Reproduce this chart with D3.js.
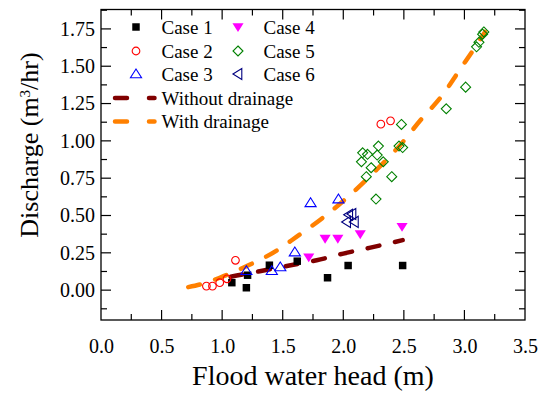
<!DOCTYPE html>
<html><head><meta charset="utf-8">
<script src="https://cdn.jsdelivr.net/npm/d3@7"></script>
<style>
body{margin:0;background:#fff;}
text{font-family:"Liberation Serif","Times New Roman",serif;}
</style></head>
<body><svg id="c" width="547" height="393"></svg>
<script>
// ---- data ----
const case1X = [1.08, 1.20, 1.21, 1.39, 1.62, 1.87, 2.04, 2.49];
const case1Y = [0.05, 0.016, 0.10, 0.167, 0.194, 0.083, 0.165, 0.165];
const case2X = [0.87, 0.92, 0.98, 1.04, 1.11, 2.31, 2.39];
const case2Y = [0.027, 0.027, 0.05, 0.076, 0.20, 1.112, 1.134];
const case3X = [1.20, 1.41, 1.48, 1.60, 1.73, 1.96];
const case3Y = [0.13, 0.13, 0.155, 0.255, 0.585, 0.61];
const case4X = [1.715, 1.85, 1.955, 2.14, 2.485];
const case4Y = [0.22, 0.345, 0.345, 0.375, 0.425];
const case5X = [2.16, 2.20, 2.29, 2.28, 2.15, 2.33, 2.23, 2.19, 2.40, 2.27, 2.46, 2.49, 2.48, 2.85, 3.01, 3.10, 3.12, 3.15, 3.16];
const case5Y = [0.92, 0.91, 0.965, 0.905, 0.86, 0.86, 0.82, 0.76, 0.76, 0.61, 0.965, 0.955, 1.11, 1.215, 1.36, 1.63, 1.66, 1.715, 1.73];
const case6X = [2.045, 2.072, 2.028, 2.092];
const case6Y = [0.505, 0.51, 0.457, 0.457];
const noDrainX = [1.07, 1.12, 1.31, 1.555, 1.78, 2.0, 2.215, 2.49];
const noDrainY = [0.09, 0.098, 0.127, 0.165, 0.20, 0.245, 0.283, 0.335];
const drainX = [0.72, 0.85, 0.98, 1.2, 1.45, 1.61, 1.83, 2.05, 2.26, 2.46, 2.64, 2.82, 2.96, 3.11, 3.17];
const drainY = [0.02, 0.045, 0.083, 0.16, 0.265, 0.355, 0.484, 0.633, 0.795, 0.963, 1.141, 1.308, 1.475, 1.654, 1.73];
const xTicks = [0, 0.5, 1.0, 1.5, 2.0, 2.5, 3.0, 3.5];
const yTicks = [0, 0.25, 0.5, 0.75, 1.0, 1.25, 1.5, 1.75];
const legendCases = ["Case 1", "Case 2", "Case 3", "Case 4", "Case 5", "Case 6"];
const legendLines = ["Without drainage", "With drainage"];

// ---- layout ----
const L = 101, R = 525, T = 9.5, B = 320;
const svg = d3.select("#c");
const x = d3.scaleLinear().domain([0, 3.5]).range([L, R]);
const y = d3.scaleLinear().domain([-0.2, 1.88]).range([B, T]);

// symbols
const sq = {draw(c, s){const h=Math.sqrt(s)/2;c.rect(-h,-h,2*h,2*h);}};
const circ = {draw(c, s){const r=Math.sqrt(s/Math.PI);c.moveTo(r,0);c.arc(0,0,r,0,2*Math.PI);}};
const triUp = {draw(c, s){const a=Math.sqrt(s)*0.8;c.moveTo(0,-a);c.lineTo(a*1.1,a*0.75);c.lineTo(-a*1.1,a*0.75);c.closePath();}};
const triDown = {draw(c, s){const a=Math.sqrt(s)*0.8;c.moveTo(0,a);c.lineTo(a*1.1,-a*0.75);c.lineTo(-a*1.1,-a*0.75);c.closePath();}};
const triLeft = {draw(c, s){const a=Math.sqrt(s)*0.8;c.moveTo(-a,0);c.lineTo(a*0.75,-a*1.1);c.lineTo(a*0.75,a*1.1);c.closePath();}};
const dia = {draw(c, s){const a=Math.sqrt(s)*0.72;c.moveTo(0,-a);c.lineTo(a,0);c.lineTo(0,a);c.lineTo(-a,0);c.closePath();}};

const series = [
  {xs: case1X, ys: case1Y, type: sq, size: 56, fill: "#000", stroke: "none"},
  {xs: case2X, ys: case2Y, type: circ, size: 46, fill: "none", stroke: "#ff0000"},
  {xs: case3X, ys: case3Y, type: triUp, size: 40, fill: "none", stroke: "#0000ff"},
  {xs: case4X, ys: case4Y, type: triDown, size: 40, fill: "#ff00ff", stroke: "none"},
  {xs: case5X, ys: case5Y, type: dia, size: 48, fill: "none", stroke: "#008000"},
  {xs: case6X, ys: case6Y, type: triLeft, size: 40, fill: "none", stroke: "#000080"}
];

// frame
svg.append("rect").attr("x", L).attr("y", T).attr("width", R - L).attr("height", B - T)
  .attr("fill", "none").attr("stroke", "#000").attr("stroke-width", 1.3);

// ticks
const xMinor = d3.range(0.25, 3.5, 0.5);
const yMinor = d3.range(-0.125, 1.9, 0.25);
const MAJ = 10, MIN = 6;
function tickLines(g, vals, len, orient) {
  g.selectAll(null).data(vals).enter().append("line")
    .attr("x1", d => orient === "b" || orient === "t" ? x(d) : (orient === "l" ? L : R))
    .attr("x2", d => orient === "b" || orient === "t" ? x(d) : (orient === "l" ? L + len : R - len))
    .attr("y1", d => orient === "l" || orient === "r" ? y(d) : (orient === "b" ? B : T))
    .attr("y2", d => orient === "l" || orient === "r" ? y(d) : (orient === "b" ? B - len : T + len))
    .attr("stroke", "#000").attr("stroke-width", 1.2);
}
const tg = svg.append("g");
["b", "t"].forEach(o => { tickLines(tg, xTicks.slice(1, -1), MAJ, o); tickLines(tg, xMinor, MIN, o); });
["l", "r"].forEach(o => { tickLines(tg, yTicks, MAJ, o); tickLines(tg, yMinor, MIN, o); });

// axis labels via d3 axes (no lines)
const xAxis = d3.axisBottom(x).tickValues(xTicks).tickFormat(d3.format(".1f")).tickSize(0).tickPadding(19);
const gx = svg.append("g").attr("transform", `translate(0,${B})`).call(xAxis);
gx.select(".domain").remove();
gx.selectAll("text").attr("font-size", 20).attr("font-family", "Liberation Serif").attr("fill", "#000");
const yAxis = d3.axisLeft(y).tickValues(yTicks).tickFormat(d3.format(".2f")).tickSize(0).tickPadding(6);
const gy = svg.append("g").attr("transform", `translate(${L},0)`).call(yAxis);
gy.select(".domain").remove();
gy.selectAll("text").attr("font-size", 20).attr("font-family", "Liberation Serif").attr("fill", "#000");

// titles
svg.append("text").attr("x", (L + R) / 2 + 0).attr("y", 385).attr("text-anchor", "middle")
  .attr("font-size", 28).text("Flood water head (m)");
const yt = svg.append("text").attr("transform", "translate(38,145) rotate(-90)")
  .attr("text-anchor", "middle").attr("font-size", 26);
yt.append("tspan").text("Discharge (m");
yt.append("tspan").attr("baseline-shift", "super").attr("font-size", 15).text("3");
yt.append("tspan").text("/hr)");

// lines
const line = d3.line().x(d => x(d[0])).y(d => y(d[1])).curve(d3.curveMonotoneX);
const plotG = svg.append("g");
plotG.append("path").datum(noDrainX.map((v, i) => [v, noDrainY[i]]))
  .attr("d", line).attr("fill", "none").attr("stroke", "#800000").attr("stroke-width", 4.5)
  .attr("stroke-linecap", "round").attr("stroke-dasharray", "12,16");
plotG.append("path").datum(drainX.map((v, i) => [v, drainY[i]]))
  .attr("d", line).attr("fill", "none").attr("stroke", "#ff8000").attr("stroke-width", 4.5)
  .attr("stroke-linecap", "round").attr("stroke-dasharray", "12,16");

// points
series.forEach(s => {
  const sym = d3.symbol().type(s.type).size(s.size);
  plotG.selectAll(null).data(s.xs.map((v, i) => [v, s.ys[i]])).enter().append("path")
    .attr("d", sym).attr("transform", d => `translate(${x(d[0])},${y(d[1])})`)
    .attr("fill", s.fill).attr("stroke", s.stroke).attr("stroke-width", 1.1);
});

// legend
const lg = svg.append("g");
const colX = [136, 238], rowY = [27, 51, 74];
legendCases.forEach((name, i) => {
  const col = Math.floor(i / 3), row = i % 3, s = series[i];
  lg.append("path").attr("d", d3.symbol().type(s.type).size(s.size))
    .attr("transform", `translate(${colX[col]},${rowY[row]})`)
    .attr("fill", s.fill).attr("stroke", s.stroke).attr("stroke-width", 1.1);
  lg.append("text").attr("x", colX[col] + 25.5).attr("y", rowY[row] + 6.5)
    .attr("font-size", 19).text(name);
});
const lineColors = ["#800000", "#ff8000"], lineRowY = [98, 121.5];
legendLines.forEach((name, i) => {
  lg.append("line").attr("x1", 115).attr("x2", 154.5).attr("y1", lineRowY[i]).attr("y2", lineRowY[i])
    .attr("stroke", lineColors[i]).attr("stroke-width", 4.5).attr("stroke-linecap", "round")
    .attr("stroke-dasharray", "12,22");
  lg.append("text").attr("x", 161.5).attr("y", lineRowY[i] + 6.5).attr("font-size", 19).text(name);
});
</script></body></html>
